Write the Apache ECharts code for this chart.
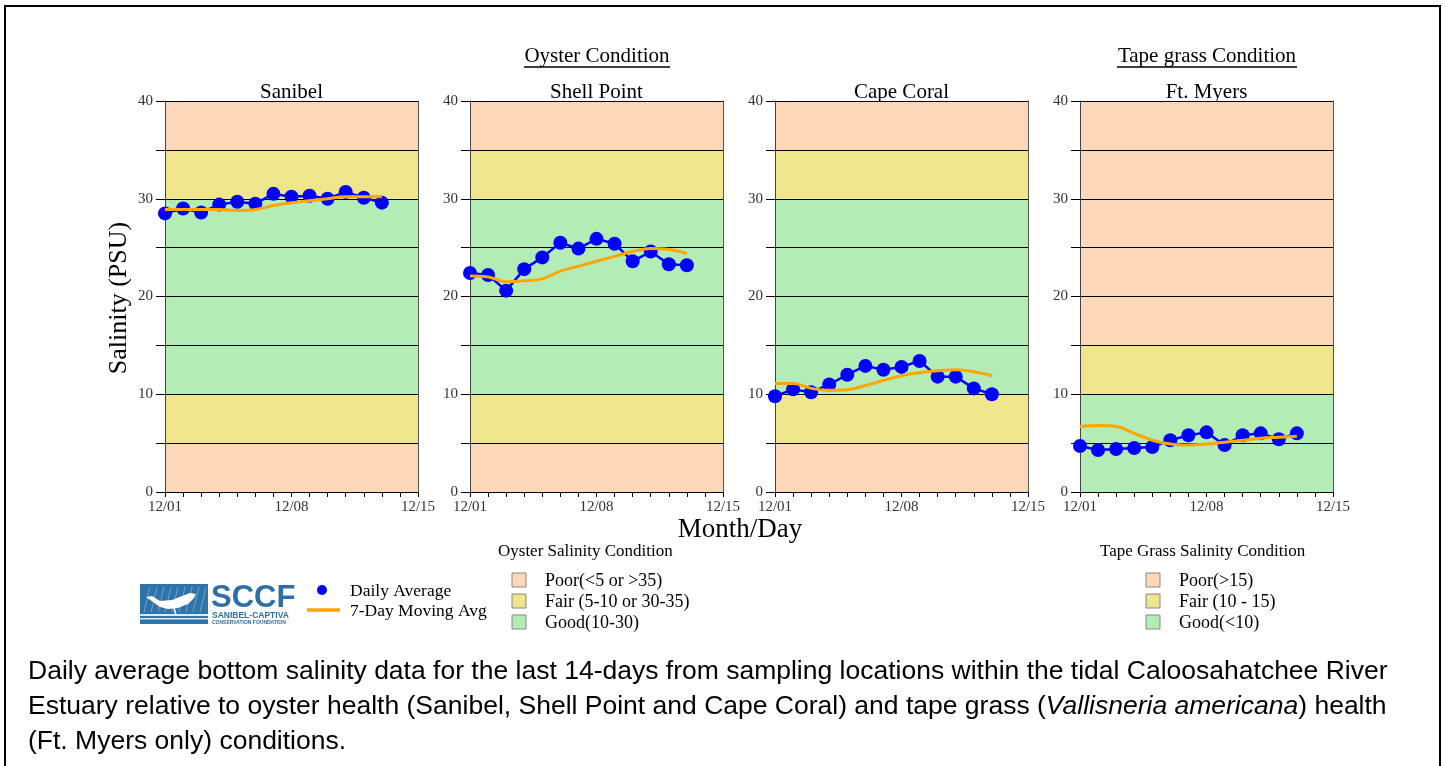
<!DOCTYPE html>
<html>
<head>
<meta charset="utf-8">
<script src="https://cdn.jsdelivr.net/npm/echarts@6/dist/echarts.min.js"></script>
<style>
html,body{margin:0;padding:0;background:#fff;}
#c{width:1445px;height:766px;}
</style>
</head>
<body>
<div id="c"></div>
<script>
// ---- data ----
var dates = ['12/01','12/02','12/03','12/04','12/05','12/06','12/07','12/08','12/09','12/10','12/11','12/12','12/13','12/14','12/15'];
var dateLabelsShown = ['12/01','12/08','12/15'];
var yTicks = [0, 10, 20, 30, 40];
var stations = ['Sanibel','Shell Point','Cape Coral','Ft. Myers'];
var sanibelDaily = [28.5, 29.0, 28.6, 29.4, 29.7, 29.5, 30.5, 30.2, 30.3, 30.0, 30.7, 30.1, 29.6];
var sanibelAvg   = [28.9, 28.9, 28.9, 28.9, 28.8, 28.9, 29.3, 29.6, 29.8, 30.0, 30.2, 30.2, 30.2];
var shellDaily   = [22.4, 22.2, 20.6, 22.8, 24.0, 25.5, 24.9, 25.9, 25.4, 23.6, 24.6, 23.3, 23.2];
var shellAvg     = [22.1, 22.0, 21.5, 21.6, 21.8, 22.6, 23.1, 23.6, 24.1, 24.6, 24.9, 24.8, 24.4];
var capeDaily    = [9.8, 10.5, 10.2, 11.0, 12.0, 12.9, 12.5, 12.8, 13.4, 11.8, 11.8, 10.6, 10.0];
var capeAvg      = [11.1, 11.1, 10.6, 10.4, 10.45, 10.9, 11.4, 11.9, 12.2, 12.4, 12.5, 12.3, 11.9];
var ftDaily      = [4.7, 4.3, 4.4, 4.5, 4.6, 5.3, 5.8, 6.1, 4.8, 5.8, 6.0, 5.4, 6.0];
var ftAvg        = [6.7, 6.8, 6.7, 6.0, 5.3, 4.9, 4.8, 4.9, 5.1, 5.3, 5.5, 5.6, 5.7];
var dailyData = [sanibelDaily, shellDaily, capeDaily, ftDaily];
var avgData = [sanibelAvg, shellAvg, capeAvg, ftAvg];
// condition bands (5-unit steps from 0 to 40)
var oysterBands = ['poor','fair','good','good','good','good','fair','poor'];
var tapeBands   = ['good','good','fair','poor','poor','poor','poor','poor'];
var oysterLegend = ['Poor(<5 or >35)','Fair (5-10 or 30-35)','Good(10-30)'];
var tapeLegend = ['Poor(>15)','Fair (10 - 15)','Good(<10)'];

// ---- styles ----
var COL = {poor:'#FDD8B8', fair:'#EEE58C', good:'#B3EDB5'};
var SERIF = '"Liberation Serif","Times New Roman",serif';
var SANS = '"Liberation Sans",Arial,sans-serif';
var lefts = [165, 470, 775, 1080];
var GW = 253, GTOP = 101, GH = 391;

var grids = [], xAxes = [], yAxes = [], series = [];
for (var i = 0; i < 4; i++) {
  grids.push({left: lefts[i], top: GTOP, width: GW, height: GH, containLabel: false});
  xAxes.push({
    type: 'category', gridIndex: i, data: dates, boundaryGap: false,
    axisLine: {lineStyle: {color: '#000', width: 1}},
    axisTick: {show: true, interval: 0, length: 5, lineStyle: {color: '#000'}},
    axisLabel: {interval: 0, formatter: function (v) { return dateLabelsShown.indexOf(v) >= 0 ? v : ''; },
      fontFamily: SERIF, fontSize: 15, color: '#333', margin: 8},
    splitLine: {show: false}
  });
  var bands = (i === 3 ? tapeBands : oysterBands).map(function (b) { return COL[b]; });
  yAxes.push({
    type: 'value', gridIndex: i, min: yTicks[0], max: yTicks[yTicks.length - 1], interval: 5,
    axisLine: {show: true, lineStyle: {color: '#444', width: 1}},
    axisTick: {show: true, length: 9, lineStyle: {color: '#000'}},
    axisLabel: {formatter: function (v) { return yTicks.indexOf(v) >= 0 ? String(v) : ''; },
      fontFamily: SERIF, fontSize: 15, color: '#333', margin: 12},
    splitLine: {show: true, lineStyle: {color: '#000', width: 1}},
    splitArea: {show: true, areaStyle: {color: bands, opacity: 1}}
  });
}
for (var j = 0; j < 4; j++) {
  yAxes.push({
    type: 'value', gridIndex: j, position: 'right', min: 0, max: 40, interval: 5,
    axisLine: {show: true, lineStyle: {color: '#555', width: 1}},
    axisTick: {show: false}, axisLabel: {show: false}, splitLine: {show: false}
  });
}
for (var k = 0; k < 4; k++) {
  series.push({
    type: 'line', xAxisIndex: k, yAxisIndex: k, data: dailyData[k],
    symbol: 'circle', symbolSize: 14, showAllSymbol: true,
    lineStyle: {color: '#0000FF', width: 2.5}, itemStyle: {color: '#0000FF'},
    z: 3, clip: true, silent: true
  });
  series.push({
    type: 'line', xAxisIndex: k, yAxisIndex: k, data: avgData[k],
    symbol: 'none', smooth: 0.4,
    lineStyle: {color: '#FFA500', width: 3}, z: 4, silent: true
  });
}

var graphics = [];
// outer border
graphics.push({type: 'rect', shape: {x: 5, y: 6, width: 1435, height: 770},
  style: {fill: 'none', stroke: '#000', lineWidth: 2}, z: 100});
// station titles
for (var s = 0; s < 4; s++) {
  graphics.push({type: 'text', x: lefts[s] + GW / 2, y: 92,
    style: {text: stations[s], font: '21px ' + SERIF, fill: '#000', textAlign: 'center', textVerticalAlign: 'middle'}});
}
function ulTitle(txt, cx, cy, w) {
  graphics.push({type: 'text', x: cx, y: cy,
    style: {text: txt, font: '21px ' + SERIF, fill: '#000', textAlign: 'center', textVerticalAlign: 'middle'}});
  graphics.push({type: 'line', shape: {x1: cx - w / 2, y1: cy + 11, x2: cx + w / 2, y2: cy + 11},
    style: {stroke: '#000', lineWidth: 1.3}});
}
ulTitle('Oyster Condition', 597, 56, 146);
ulTitle('Tape grass Condition', 1207, 56, 180);
// axis names
graphics.push({type: 'text', x: 119, y: 298, rotation: Math.PI / 2,
  style: {text: 'Salinity (PSU)', font: '26px ' + SERIF, fill: '#000', textAlign: 'center', textVerticalAlign: 'middle'}});
graphics.push({type: 'text', x: 740, y: 530,
  style: {text: 'Month/Day', font: '27px ' + SERIF, fill: '#000', textAlign: 'center', textVerticalAlign: 'middle'}});

// logo
graphics.push({type: 'rect', shape: {x: 140, y: 584, width: 68, height: 40}, style: {fill: '#2E73A9'}});
for (var g = 0; g < 9; g++) {
  graphics.push({type: 'line', shape: {x1: 144 + g * 7, y1: 612, x2: 150 + g * 7, y2: 587},
    style: {stroke: '#6FA3CC', lineWidth: 1}});
}
graphics.push({type: 'polygon', shape: {points: [[146,597],[152,596],[160,601],[172,600],[182,596],[190,593],[196,594],[194,598],[188,604],[178,608],[168,609],[160,607],[153,602]]},
  style: {fill: '#fff'}});
graphics.push({type: 'line', shape: {x1: 174, y1: 608, x2: 176, y2: 615}, style: {stroke: '#fff', lineWidth: 1.5}});
graphics.push({type: 'rect', shape: {x: 140, y: 614, width: 68, height: 2}, style: {fill: '#DDEBF5'}});
graphics.push({type: 'rect', shape: {x: 140, y: 618, width: 68, height: 1.5}, style: {fill: '#DDEBF5'}});
graphics.push({type: 'text', x: 211, y: 598,
  style: {text: 'SCCF', font: 'bold 31px ' + SANS, fill: '#2E6FA6', textAlign: 'left', textVerticalAlign: 'middle'}});
graphics.push({type: 'text', x: 212, y: 616,
  style: {text: 'SANIBEL-CAPTIVA', font: 'bold 8.5px ' + SANS, fill: '#2E6FA6', textAlign: 'left', textVerticalAlign: 'middle'}});
graphics.push({type: 'text', x: 212, y: 622.5,
  style: {text: 'CONSERVATION FOUNDATION', font: 'bold 5px ' + SANS, fill: '#2E6FA6', textAlign: 'left', textVerticalAlign: 'middle'}});

// series legend
graphics.push({type: 'circle', shape: {cx: 322, cy: 590, r: 5}, style: {fill: '#0000FF'}});
graphics.push({type: 'text', x: 350, y: 591,
  style: {text: 'Daily Average', font: '17.5px ' + SERIF, fill: '#000', textVerticalAlign: 'middle'}});
graphics.push({type: 'line', shape: {x1: 307, y1: 610, x2: 340, y2: 610}, style: {stroke: '#FFA500', lineWidth: 3.5}});
graphics.push({type: 'text', x: 350, y: 611,
  style: {text: '7-Day Moving Avg', font: '17.5px ' + SERIF, fill: '#000', textVerticalAlign: 'middle'}});

// condition legends
function condLegend(title, tx, bx, labels) {
  graphics.push({type: 'text', x: tx, y: 552,
    style: {text: title, font: '17px ' + SERIF, fill: '#000', textVerticalAlign: 'middle'}});
  var cols = [COL.poor, COL.fair, COL.good];
  for (var r = 0; r < 3; r++) {
    var yy = 580 + r * 21;
    graphics.push({type: 'rect', shape: {x: bx, y: yy - 7, width: 14, height: 14},
      style: {fill: cols[r], stroke: '#888', lineWidth: 1}});
    graphics.push({type: 'text', x: bx + 33, y: yy + 1,
      style: {text: labels[r], font: '18px ' + SERIF, fill: '#000', textVerticalAlign: 'middle'}});
  }
}
condLegend('Oyster Salinity Condition', 498, 512, oysterLegend);
condLegend('Tape Grass Salinity Condition', 1100, 1146, tapeLegend);

// caption
var capFont = '26.5px ' + SANS;
graphics.push({type: 'text', x: 28, y: 672,
  style: {text: 'Daily average bottom salinity data for the last 14-days from sampling locations within the tidal Caloosahatchee River',
    font: capFont, fill: '#000', textVerticalAlign: 'middle'}});
graphics.push({type: 'text', x: 28, y: 707,
  style: {text: 'Estuary relative to oyster health (Sanibel, Shell Point and Cape Coral) and tape grass ({i|Vallisneria americana}) health',
    font: capFont, fill: '#000', textVerticalAlign: 'middle',
    rich: {i: {fontStyle: 'italic', fontFamily: '"Liberation Sans",Arial,sans-serif', fontSize: 26.5, fill: '#000'}}}});
graphics.push({type: 'text', x: 28, y: 742,
  style: {text: '(Ft. Myers only) conditions.', font: capFont, fill: '#000', textVerticalAlign: 'middle'}});

var chart = echarts.init(document.getElementById('c'), null, {renderer: 'canvas'});
chart.setOption({
  backgroundColor: '#fff',
  animation: false,
  grid: grids, xAxis: xAxes, yAxis: yAxes, series: series,
  graphic: graphics
});
</script>
</body>
</html>
